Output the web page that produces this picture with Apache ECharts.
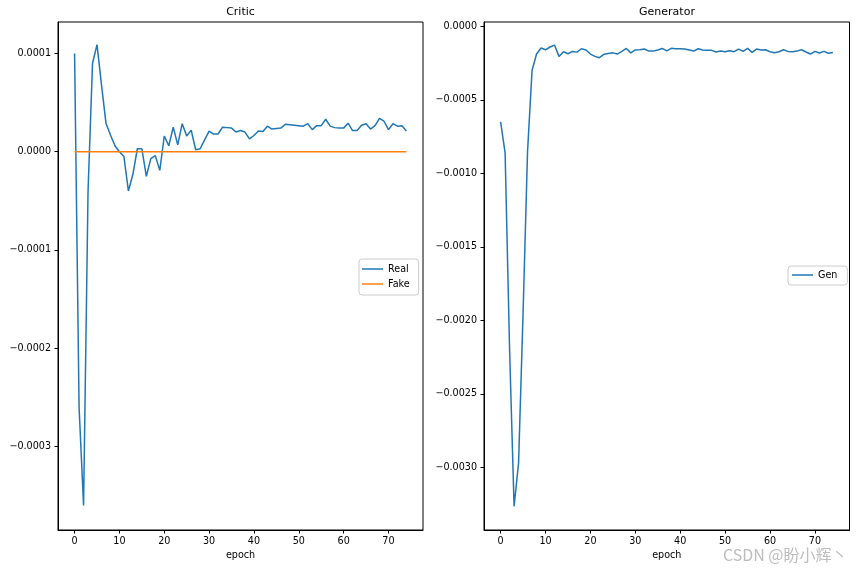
<!DOCTYPE html>
<html>
<head>
<meta charset="utf-8">
<script src="https://cdn.jsdelivr.net/npm/echarts@6/dist/echarts.min.js"></script>
<style>html,body{margin:0;padding:0;background:#fff}#chart{width:856px;height:568px}</style>
</head>
<body>
<div id="chart"></div>
<script>
const criticReal = [
  0.000100, -0.000260, -0.000360, -0.000040, 0.000090, 0.000109, 0.000068, 0.000029, 0.000017, 0.000006,
  0.000000, -0.000005, -0.000040, -0.000023, 0.000003, 0.000003, -0.000025, -0.000007, -0.000004, -0.000019,
  0.000016, 0.000006, 0.000025, 0.000007, 0.0000285, 0.000016, 0.000022, 0.000002, 0.000003, 0.000012,
  0.000021, 0.000018, 0.000018, 0.000025, 0.0000245, 0.000024, 0.000020, 0.0000215, 0.000020, 0.000013,
  0.0000165, 0.000021, 0.0000205, 0.000026, 0.000023, 0.0000235, 0.000024, 0.000028, 0.0000275, 0.000027,
  0.0000265, 0.000026, 0.0000285, 0.0000225, 0.0000265, 0.0000265, 0.000033, 0.000026, 0.0000245, 0.000024,
  0.000024, 0.000029, 0.0000215, 0.0000215, 0.000027, 0.0000285, 0.000023, 0.0000265, 0.000034, 0.000031,
  0.0000225, 0.0000285, 0.000026, 0.0000265, 0.000021
];
const criticFake = [
  0,0,0,0,0,0,0,0,0,0, 0,0,0,0,0,0,0,0,0,0, 0,0,0,0,0,0,0,0,0,0,
  0,0,0,0,0,0,0,0,0,0, 0,0,0,0,0,0,0,0,0,0, 0,0,0,0,0,0,0,0,0,0,
  0,0,0,0,0,0,0,0,0,0, 0,0,0,0,0
];
const genLoss = [
  -0.00065, -0.00086, -0.0022, -0.003265, -0.00297, -0.00195, -0.00085, -0.0003, -0.000188, -0.000147,
  -0.000159, -0.00014, -0.000127, -0.000204, -0.000172, -0.000186, -0.00017, -0.000175, -0.000152, -0.00016,
  -0.000188, -0.000204, -0.000213, -0.00019, -0.000184, -0.00018, -0.000188, -0.00017, -0.00015, -0.00018,
  -0.00016, -0.000159, -0.000154, -0.000168, -0.000168, -0.00016, -0.00015, -0.000166, -0.000149, -0.000152,
  -0.000152, -0.000154, -0.000161, -0.000168, -0.000152, -0.000161, -0.000163, -0.000163, -0.000174, -0.000168,
  -0.000172, -0.000165, -0.000172, -0.000154, -0.00017, -0.000149, -0.000177, -0.000154, -0.000161, -0.000159,
  -0.000172, -0.000179, -0.000172, -0.000159, -0.00017, -0.000172, -0.000168, -0.000159, -0.000174, -0.000188,
  -0.00017, -0.000181, -0.00017, -0.000183, -0.000177
];
const xTicks = [0, 10, 20, 30, 40, 50, 60, 70];
const criticYTicks = [-0.0003, -0.0002, -0.0001, 0, 0.0001];
const genYTicks = [-0.003, -0.0025, -0.002, -0.0015, -0.001, -0.0005, 0];

const FONT = 'DejaVu Sans';
const FS = 9.6;
const toPairs = arr => arr.map((v, i) => [i, v]);
const fmtY = v => {
  if (Math.abs(v) < 1e-12) return '0.0000';
  return (v < 0 ? '\u2212' : '') + Math.abs(v).toFixed(4);
};

function xAxisCfg(gridIndex) {
  return {
    type: 'value', gridIndex, min: -3.7, max: 77.7,
    name: 'epoch', nameLocation: 'middle', nameGap: 20,
    nameTextStyle: { fontFamily: FONT, fontSize: FS, color: '#000' },
    axisLine: { show: true, onZero: false, lineStyle: { color: '#000', width: 1 } },
    axisTick: { show: true, length: 3.5, lineStyle: { color: '#000' }, customValues: xTicks },
    axisLabel: { fontFamily: FONT, fontSize: FS, color: '#000', margin: 6, customValues: xTicks },
    splitLine: { show: false }
  };
}
function yAxisCfg(gridIndex, min, max, ticks) {
  return {
    type: 'value', gridIndex, min, max,
    axisLine: { show: true, onZero: false, lineStyle: { color: '#000', width: 1 } },
    axisTick: { show: true, length: 3.5, lineStyle: { color: '#000' }, customValues: ticks },
    axisLabel: { fontFamily: FONT, fontSize: FS, color: '#000', margin: 7, customValues: ticks, formatter: fmtY },
    splitLine: { show: false }
  };
}

const chart = echarts.init(document.getElementById('chart'), null, { renderer: 'canvas' });
chart.setOption({
  animation: false,
  backgroundColor: '#fff',
  grid: [
    { left: 58, right: 433, top: 22, bottom: 38, show: true, borderColor: '#000', borderWidth: 1, backgroundColor: 'transparent' },
    { left: 484, right: 6.5, top: 22, bottom: 38, show: true, borderColor: '#000', borderWidth: 1, backgroundColor: 'transparent' }
  ],
  xAxis: [xAxisCfg(0), xAxisCfg(1)],
  yAxis: [
    yAxisCfg(0, -0.000385, 0.000132, criticYTicks),
    yAxisCfg(1, -0.003426, 0.00003, genYTicks)
  ],
  legend: [
    {
      data: ['Real', 'Fake'], orient: 'vertical', left: 359, top: 259,
      icon: 'rect', itemWidth: 21, itemHeight: 1.5, itemGap: 5, itemTextGap: 8,
      padding: [5, 9, 6, 3], backgroundColor: 'rgba(255,255,255,0.8)',
      borderColor: '#cccccc', borderWidth: 1, borderRadius: 3,
      textStyle: { fontFamily: FONT, fontSize: FS, color: '#000' }
    },
    {
      data: ['Gen'], orient: 'vertical', left: 788, top: 266,
      icon: 'rect', itemWidth: 21, itemHeight: 1.5, itemGap: 4, itemTextGap: 8,
      padding: [4, 10, 5, 4], backgroundColor: 'rgba(255,255,255,0.8)',
      borderColor: '#cccccc', borderWidth: 1, borderRadius: 3,
      textStyle: { fontFamily: FONT, fontSize: FS, color: '#000' }
    }
  ],
  series: [
    { name: 'Real', type: 'line', xAxisIndex: 0, yAxisIndex: 0, data: toPairs(criticReal), showSymbol: false, symbol: 'none',
      lineStyle: { color: '#1f77b4', width: 1.5 }, itemStyle: { color: '#1f77b4' } },
    { name: 'Fake', type: 'line', xAxisIndex: 0, yAxisIndex: 0, data: toPairs(criticFake), showSymbol: false, symbol: 'none',
      lineStyle: { color: '#ff7f0e', width: 1.5 }, itemStyle: { color: '#ff7f0e' } },
    { name: 'Gen', type: 'line', xAxisIndex: 1, yAxisIndex: 1, data: toPairs(genLoss), showSymbol: false, symbol: 'none',
      lineStyle: { color: '#1f77b4', width: 1.5 }, itemStyle: { color: '#1f77b4' } }
  ],
  graphic: [
    { type: 'text', x: 240.5, y: 12, style: { text: 'Critic', fontFamily: FONT, fontSize: 11, fill: '#000', align: 'center', verticalAlign: 'middle' } },
    { type: 'text', x: 667, y: 12, style: { text: 'Generator', fontFamily: FONT, fontSize: 11, fill: '#000', align: 'center', verticalAlign: 'middle' } },
    { type: 'text', right: 8, bottom: 5, z: 100, style: { text: 'CSDN @盼小辉丶', fontFamily: 'Noto Sans CJK SC', fontSize: 16, fill: '#bdbdbd', stroke: '#ffffff', lineWidth: 1 } }
  ]
});
</script>
</body>
</html>
